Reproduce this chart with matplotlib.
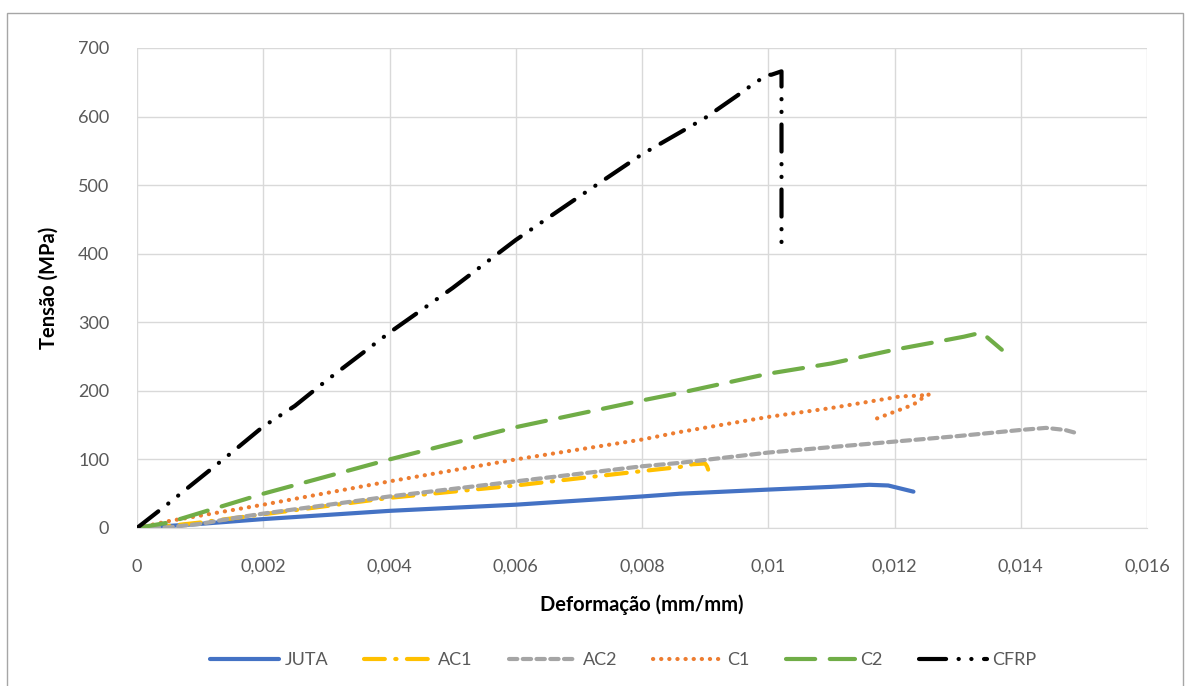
import matplotlib
matplotlib.use("Agg")
import matplotlib.pyplot as plt
from matplotlib.patches import Rectangle

plt.rcParams['font.family'] = ['Lato', 'DejaVu Sans']

# strain (mm/mm) and stress (MPa)
juta_x = [0, 0.0005, 0.001, 0.002, 0.004, 0.006, 0.008, 0.0086, 0.010, 0.011, 0.0116, 0.0119, 0.0123]
juta_y = [0, 3, 6, 13, 25, 34, 46, 50, 56, 60, 63, 62, 53]

ac1_x = [0, 0.0005, 0.001, 0.002, 0.004, 0.006, 0.008, 0.0086, 0.0088, 0.0090, 0.00903, 0.00906]
ac1_y = [0, 3, 8, 20, 44, 62, 83, 89, 93, 94, 90, 82]

ac2_x = [0, 0.0005, 0.001, 0.0015, 0.002, 0.004, 0.006, 0.008, 0.0086, 0.010, 0.011, 0.012, 0.013, 0.014, 0.0144, 0.0147, 0.0149]
ac2_y = [0, 1, 6, 14, 21, 46, 68, 90, 95, 110, 118, 126, 134, 143, 146, 143, 138]

c1_x = [0, 0.0005, 0.001, 0.002, 0.004, 0.006, 0.008, 0.0086, 0.010, 0.011, 0.0121, 0.0124, 0.01255, 0.01245, 0.0123, 0.0117]
c1_y = [0, 10, 18, 34, 68, 100, 129, 140, 162, 175, 192, 193, 195, 190, 180, 159]

c2_x = [0, 0.0005, 0.001, 0.002, 0.004, 0.006, 0.008, 0.0086, 0.010, 0.011, 0.012, 0.0127, 0.0131, 0.01338, 0.0137]
c2_y = [0, 8, 22, 50, 100, 147, 186, 197, 225, 240, 260, 272, 279, 285, 260]

cfrp_x = [0, 0.0005, 0.001, 0.0015, 0.002, 0.0025, 0.003, 0.004, 0.005, 0.006, 0.007, 0.008, 0.009, 0.0095, 0.0098, 0.0100, 0.01005, 0.01021, 0.01021]
cfrp_y = [0, 36, 73, 110, 148, 178, 215, 285, 350, 420, 483, 545, 598, 630, 650, 661, 661, 666, 408]

xticks = [0, 0.002, 0.004, 0.006, 0.008, 0.010, 0.012, 0.014, 0.016]
xlabels = ['0', '0,002', '0,004', '0,006', '0,008', '0,01', '0,012', '0,014', '0,016']
yticks = [0, 100, 200, 300, 400, 500, 600, 700]

fig = plt.figure(figsize=(11.9, 6.86), dpi=100)
ax = fig.add_axes([137/1190, 1-528/686, (1147-137)/1190, 480/686])

lw = 3
ax.plot(juta_x, juta_y, color='#4472C4', lw=lw, label='JUTA', solid_capstyle='round')
ax.plot(ac1_x, ac1_y, color='#FFC000', lw=lw, label='AC1', dashes=(5, 2.5, 0.3, 2.5), dash_capstyle='round')
ax.plot(ac2_x, ac2_y, color='#A5A5A5', lw=lw, label='AC2', dashes=(2, 1.3), dash_capstyle='round')
ax.plot(c1_x, c1_y, color='#ED7D31', lw=lw, label='C1', dashes=(0.05, 1.9), dash_capstyle='round')
ax.plot(c2_x, c2_y, color='#70AD47', lw=lw, label='C2', dashes=(7, 3.5), dash_capstyle='round')
ax.plot(cfrp_x, cfrp_y, color='black', lw=lw, label='CFRP', dashes=(6.5, 3, 0.05, 3, 0.05, 3), dash_capstyle='round')

ax.set_xlim(0, 0.016)
ax.set_ylim(0, 700)
ax.set_xticks(xticks)
ax.set_xticklabels(xlabels)
ax.set_yticks(yticks)
ax.grid(True, color='#D9D9D9', lw=1)
ax.set_axisbelow(True)
for s in ['top', 'right', 'left']:
    ax.spines[s].set_visible(False)
ax.spines['bottom'].set_color('#D9D9D9')
ax.tick_params(length=0, labelsize=13, labelcolor='#595959')
ax.tick_params(axis='x', pad=22)
ax.tick_params(axis='y', pad=20)

ax.set_xlabel('Deformação (mm/mm)', fontsize=14.5, fontweight='bold', labelpad=14)
ax.set_ylabel('Tensão (MPa)', fontsize=14.5, fontweight='bold', labelpad=14)

fig.legend(loc='center', bbox_to_anchor=(0.524, 1-660/686), ncol=6, frameon=False,
           fontsize=13, labelcolor='#595959', handlelength=3.8, columnspacing=2.0, handletextpad=0.3)

fig.patches.append(Rectangle((7/1190, -0.05), (1183-7)/1190, 1.05-13/686, transform=fig.transFigure,
                             fill=False, edgecolor='#A6A6A6', lw=1))

fig.savefig('out.png', dpi=100)
